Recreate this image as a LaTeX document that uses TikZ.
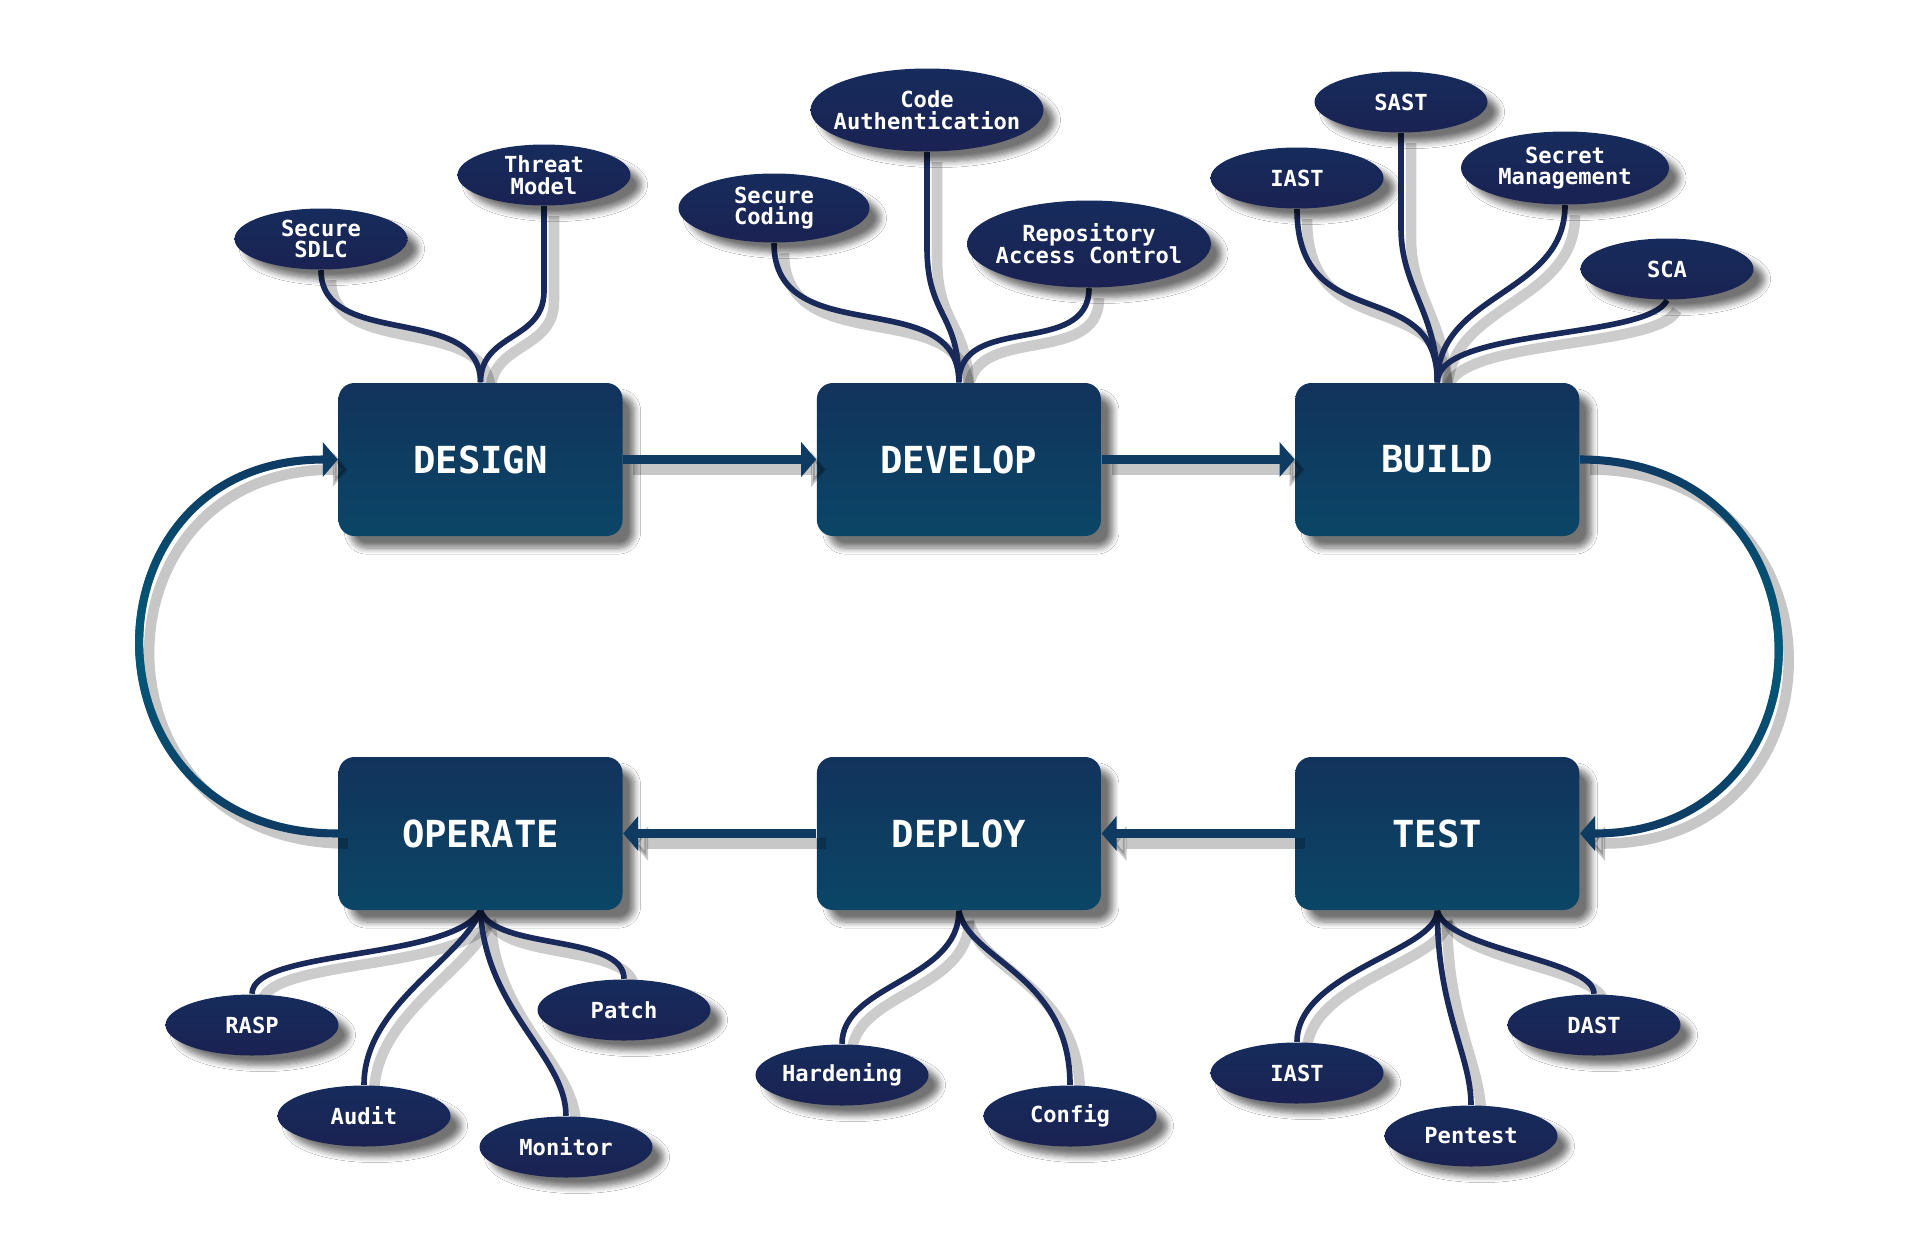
\documentclass[tikz,border=0pt]{standalone}
\usepackage{fontspec}
\setmonofont{DejaVu Sans Mono}
\usetikzlibrary{positioning, arrows.meta, shapes.geometric, shadows.blur, fadings,
                backgrounds}

\tikzfading[name=loopfade, top color=transparent!100,
            bottom color=transparent!100, middle color=transparent!0]

\begin{document}
\begin{tikzpicture}[
    phase/.style={rectangle, rounded corners=0.16cm, minimum width=2.84cm,
                  minimum height=1.53cm, top color=phasetop, bottom color=phasebot,
                  text=white, font=\ttfamily\bfseries\fontsize{10.6}{12}\selectfont,
                  blur shadow={shadow xshift=0.12cm, shadow yshift=-0.12cm,
                               shadow opacity=55, shadow blur steps=8}},
    leaf/.style={ellipse, minimum width=1.73cm, minimum height=0.61cm,
                 inner xsep=-1.2mm, inner ysep=0pt, align=center,
                 top color=leaftop, bottom color=leafbot, text=white,
                 font=\ttfamily\bfseries\fontsize{6.3}{6.2}\selectfont,
                 blur shadow={shadow xshift=0.11cm, shadow yshift=-0.1cm,
                              shadow opacity=55, shadow blur steps=6}},
    twig/.style={line width=1.6pt, draw=twigblue,
                 preaction={draw=black, opacity=0.2, line width=3pt,
                            transform canvas={shift={(0.1cm,-0.1cm)}}}},
    arrow/.style={line width=2.3pt, draw=arrowblue,
                  -{Triangle[length=0.15cm, width=0.34cm]},
                  preaction={draw=black, opacity=0.22, line width=3pt,
                             transform canvas={shift={(0.1cm,-0.1cm)}}}},
    backarrow/.style={arrow},
    backtint/.style={line width=2.3pt, draw=loopteal, path fading=loopfade,
                     -{Triangle[length=0.15cm, width=0.34cm]}}
]
% Phasen mit Verlauf Blau -> Petrol, Werkzeuge als dunkle Ellipsen;
% der Rueckweg (BUILD -> TEST, OPERATE -> DESIGN) wird in der Mitte heller.
\definecolor{phasetop}{HTML}{12335C}
\definecolor{phasebot}{HTML}{0B4667}
\definecolor{leaftop}{HTML}{162C5C}
\definecolor{leafbot}{HTML}{1A2252}
\definecolor{twigblue}{HTML}{18295A}
\definecolor{arrowblue}{HTML}{0F3B63}
\definecolor{loopteal}{HTML}{025A7A}

\useasboundingbox (0,0) rectangle (19.2,-12.47);

\node[phase] (design) at (4.805,-4.595) {DESIGN};
\node[phase, right=1.93cm of design] (develop) {DEVELOP};
\node[phase, right=1.93cm of develop] (build) {BUILD};
\node[phase] (operate) at (4.805,-8.335) {OPERATE};
\node[phase, right=1.93cm of operate] (deploy) {DEPLOY};
\node[phase, right=1.93cm of deploy] (test) {TEST};

\node[leaf] (sdlc) at (3.21,-2.39) {Secure\\SDLC};
\node[leaf] (threat) at (5.44,-1.75) {Threat\\Model};
\node[leaf, minimum width=1.91cm, minimum height=0.69cm] (coding) at (7.74,-2.08) {Secure\\Coding};
\node[leaf, minimum width=2.33cm, minimum height=0.83cm] (codeauth) at (9.27,-1.10) {Code\\Authentication};
\node[leaf, minimum width=2.44cm, minimum height=0.87cm] (repo) at (10.89,-2.44) {Repository\\Access Control};
\node[leaf] (iastb) at (12.97,-1.78) {IAST};
\node[leaf] (sast) at (14.01,-1.02) {SAST};
\node[leaf, minimum width=2.08cm, minimum height=0.73cm] (secret) at (15.65,-1.68) {Secret\\Management};
\node[leaf] (sca) at (16.67,-2.69) {SCA};

\node[leaf] (rasp) at (2.52,-10.25) {RASP};
\node[leaf] (audit) at (3.64,-11.16) {Audit};
\node[leaf] (monitor) at (5.66,-11.47) {Monitor};
\node[leaf] (patch) at (6.24,-10.10) {Patch};
\node[leaf] (hardening) at (8.42,-10.75) {Hardening};
\node[leaf] (config) at (10.70,-11.16) {Config};
\node[leaf] (iastt) at (12.97,-10.73) {IAST};
\node[leaf] (pentest) at (14.71,-11.36) {Pentest};
\node[leaf] (dast) at (15.94,-10.25) {DAST};

\begin{scope}[on background layer]
\fill[white] (0,0) rectangle (19.2,-12.47);

\draw[twig] (sdlc.south) .. controls +(0,-0.8) and +(0,0.8) .. (design.north);
\draw[twig] (threat.south) -- ++(0,-0.85) .. controls +(0,-0.5) and +(0,0.5) .. (design.north);

\draw[twig] (coding.south) .. controls +(0,-1.1) and +(0,1.0) .. (develop.north);
\draw[twig] (codeauth.south) -- ++(0,-0.95) .. controls +(0,-0.7) and +(0,0.7) .. (develop.north);
\draw[twig] (repo.south) .. controls +(0,-0.7) and +(0,0.7) .. (develop.north);

\draw[twig] (iastb.south) .. controls +(0,-1.3) and +(0,1.1) .. (build.north);
\draw[twig] (sast.south) -- ++(0,-0.95) .. controls +(0,-0.6) and +(0,0.7) .. (build.north);
\draw[twig] (secret.south) .. controls +(0,-0.9) and +(0,0.9) .. (build.north);
\draw[twig] (sca.south) .. controls +(-0.2,-0.4) and +(0,0.55) .. (build.north);

\draw[twig] (operate.south) .. controls +(-0.3,-0.5) and +(0,0.45) .. (rasp.north);
\draw[twig] (operate.south) .. controls +(-0.2,-0.5) and +(0,0.8) .. (audit.north);
\draw[twig] (operate.south) .. controls +(0.05,-1.0) and +(0,0.6) .. (monitor.north);
\draw[twig] (operate.south) .. controls +(0.15,-0.4) and +(0,0.45) .. (patch.north);

\draw[twig] (deploy.south) .. controls +(0,-0.7) and +(0,0.6) .. (hardening.north);
\draw[twig] (deploy.south) .. controls +(0.1,-0.5) and +(0,1.1) .. (config.north);

\draw[twig] (test.south) .. controls +(0,-0.4) and +(0,0.7) .. (iastt.north);
\draw[twig] (test.south) .. controls +(0,-1.0) and +(0,0.5) .. (pentest.north);
\draw[twig] (test.south) .. controls +(0.1,-0.4) and +(0,0.35) .. (dast.north);
\end{scope}

\draw[arrow] (design) -- (develop);
\draw[arrow] (develop) -- (build);
\draw[arrow] (test) -- (deploy);
\draw[arrow] (deploy) -- (operate);

\draw[backarrow] (build.east) to[out=0, in=0, looseness=1.8] (test.east);
\draw[backtint] (build.east) to[out=0, in=0, looseness=1.8] (test.east);
\draw[backarrow] (operate.west) to[out=180, in=180, looseness=1.8] (design.west);
\draw[backtint] (operate.west) to[out=180, in=180, looseness=1.8] (design.west);
\end{tikzpicture}
\end{document}
